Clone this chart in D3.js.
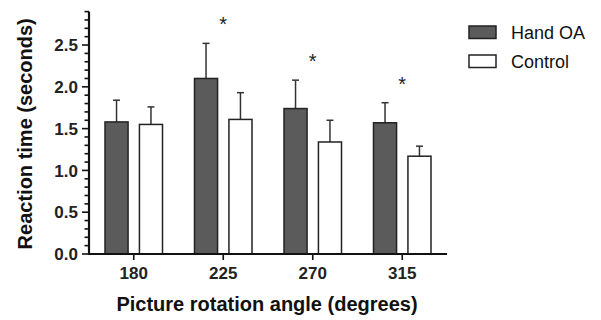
<!DOCTYPE html>
<html>
<head>
<meta charset="utf-8">
<script src="https://cdn.jsdelivr.net/npm/d3@7"></script>
<style>
  body { margin: 0; background: #fff; }
  svg { display: block; font-family: "Liberation Sans", Arial, sans-serif; }
</style>
</head>
<body>
<div id="chart"></div>
<script>
// Data
const angles = ["180", "225", "270", "315"];
const groups = ["Hand OA", "Control"];
const handMeans = [1.58, 2.10, 1.74, 1.57];
const handErr = [0.26, 0.42, 0.34, 0.24];
const ctrlMeans = [1.55, 1.61, 1.34, 1.17];
const ctrlErr = [0.21, 0.32, 0.26, 0.12];
const significant = [false, true, true, true];

const groupColors = { "Hand OA": "#5b5b5b", "Control": "#ffffff" };

const width = 601, height = 320;
const margin = { top: 11.6, left: 89, bottom: 66, right: 154 };

const rows = angles.map((a, i) => ({
  angle: a,
  values: [
    { group: "Hand OA", mean: handMeans[i], err: handErr[i] },
    { group: "Control", mean: ctrlMeans[i], err: ctrlErr[i] }
  ],
  sig: significant[i]
}));

const svg = d3.select("#chart").append("svg")
  .attr("width", width)
  .attr("height", height);

svg.append("rect").attr("width", width).attr("height", height).attr("fill", "#fff");

const x0 = d3.scaleBand()
  .domain(angles)
  .range([margin.left, width - margin.right]);

// inner scale for the two bars in each group
const x1 = d3.scaleBand()
  .domain(groups)
  .range([16, x0.bandwidth() - 16])
  .paddingInner(0.33);

const y = d3.scaleLinear()
  .domain([0, 2.9])
  .range([height - margin.bottom, margin.top]);

// bars
const g = svg.selectAll("g.group")
  .data(rows)
  .enter().append("g")
  .attr("class", "group")
  .attr("transform", d => `translate(${x0(d.angle)},0)`);

// error bars (upper only), drawn before bars
g.selectAll("g.err")
  .data(d => d.values)
  .enter().append("g")
  .attr("class", "err")
  .each(function(d) {
    const cx = x1(d.group) + x1.bandwidth() / 2;
    const e = d3.select(this);
    e.append("line")
      .attr("x1", cx).attr("x2", cx)
      .attr("y1", y(d.mean)).attr("y2", y(d.mean + d.err))
      .attr("stroke", "#333").attr("stroke-width", 1.5);
    e.append("line")
      .attr("x1", cx - 3.5).attr("x2", cx + 3.5)
      .attr("y1", y(d.mean + d.err)).attr("y2", y(d.mean + d.err))
      .attr("stroke", "#333").attr("stroke-width", 1.5);
  });

g.selectAll("rect")
  .data(d => d.values)
  .enter().append("rect")
  .attr("x", d => x1(d.group))
  .attr("y", d => y(d.mean))
  .attr("width", x1.bandwidth())
  .attr("height", d => y(0) - y(d.mean))
  .attr("fill", d => groupColors[d.group])
  .attr("stroke", "#222")
  .attr("stroke-width", 1.5);

// significance stars
g.filter(d => d.sig)
  .append("text")
  .attr("x", x0.bandwidth() / 2)
  .attr("y", d => y(d3.max(d.values, v => v.mean + v.err)) - 12)
  .attr("text-anchor", "middle")
  .attr("font-size", 20)
  .attr("fill", "#222")
  .text("*");

// y axis: minor ticks every 0.1, labels every 0.5
const yAxis = svg.append("g")
  .attr("transform", `translate(${margin.left},0)`);

yAxis.append("line")
  .attr("x1", 0).attr("x2", 0)
  .attr("y1", y(0) + 1).attr("y2", y(2.9))
  .attr("stroke", "#111").attr("stroke-width", 2.2);

const minor = d3.range(0, 30).map(i => i / 10);
yAxis.selectAll("line.tick")
  .data(minor)
  .enter().append("line")
  .attr("class", "tick")
  .attr("x1", d => (Math.round(d * 10) % 5 === 0) ? -7 : -4.5)
  .attr("x2", 0)
  .attr("y1", d => y(d)).attr("y2", d => y(d))
  .attr("stroke", "#111").attr("stroke-width", 1.6);

yAxis.selectAll("text")
  .data(d3.range(0, 3, 0.5))
  .enter().append("text")
  .attr("x", -11)
  .attr("y", d => y(d))
  .attr("dy", "0.36em")
  .attr("text-anchor", "end")
  .attr("font-size", 17)
  .attr("font-weight", "bold")
  .attr("fill", "#222")
  .text(d => d.toFixed(1));

// x axis
const xAxis = svg.append("g")
  .attr("transform", `translate(0,${y(0)})`);

xAxis.append("line")
  .attr("x1", margin.left - 1).attr("x2", width - margin.right)
  .attr("y1", 0).attr("y2", 0)
  .attr("stroke", "#111").attr("stroke-width", 2.2);

xAxis.selectAll("line.tick")
  .data(angles)
  .enter().append("line")
  .attr("class", "tick")
  .attr("x1", d => x0(d) + x0.bandwidth() / 2)
  .attr("x2", d => x0(d) + x0.bandwidth() / 2)
  .attr("y1", 0).attr("y2", 6)
  .attr("stroke", "#111").attr("stroke-width", 1.6);

xAxis.selectAll("text")
  .data(angles)
  .enter().append("text")
  .attr("x", d => x0(d) + x0.bandwidth() / 2)
  .attr("y", 25)
  .attr("text-anchor", "middle")
  .attr("font-size", 17)
  .attr("font-weight", "bold")
  .attr("fill", "#222")
  .text(d => d);

// axis titles
svg.append("text")
  .attr("x", (margin.left + width - margin.right) / 2 - 1)
  .attr("y", 311)
  .attr("text-anchor", "middle")
  .attr("font-size", 20)
  .attr("font-weight", "bold")
  .attr("fill", "#111")
  .text("Picture rotation angle (degrees)");

svg.append("text")
  .attr("transform", `translate(32,${(y(0) + y(2.9)) / 2 + 1}) rotate(-90)`)
  .attr("text-anchor", "middle")
  .attr("font-size", 20)
  .attr("font-weight", "bold")
  .attr("fill", "#111")
  .text("Reaction time (seconds)");

// legend
const legend = svg.append("g")
  .attr("transform", "translate(469,26)");

const item = legend.selectAll("g")
  .data(groups)
  .enter().append("g")
  .attr("transform", (d, i) => `translate(0,${i * 29})`);

item.append("rect")
  .attr("width", 27).attr("height", 12.5)
  .attr("fill", d => groupColors[d])
  .attr("stroke", "#222").attr("stroke-width", 1.5);

item.append("text")
  .attr("x", 42).attr("y", 13)
  .attr("font-size", 18)
  .attr("fill", "#111")
  .text(d => d);
</script>
</body>
</html>
